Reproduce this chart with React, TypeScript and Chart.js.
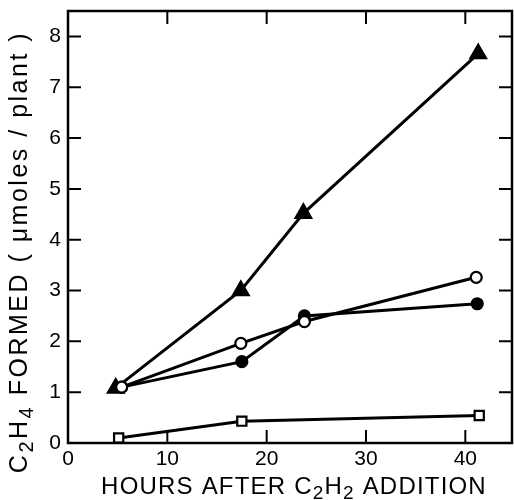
import React, { useEffect, useRef } from "react";
import { Chart, registerables } from "chart.js";

Chart.register(...registerables);

// Data
const triangleX = [4.8, 17.4, 23.7, 41.3];
const triangleY = [1.08, 3.0, 4.52, 7.66];
const openCircleX = [5.4, 17.4, 23.8, 41.1];
const openCircleY = [1.1, 1.96, 2.39, 3.26];
const filledCircleX = [5.4, 17.5, 23.8, 41.2];
const filledCircleY = [1.1, 1.6, 2.5, 2.74];
const squareX = [5.1, 17.5, 41.4];
const squareY = [0.1, 0.43, 0.54];

// Axis titles as [text, isSubscript] runs
const xTitleParts: [string, boolean][] = [["HOURS AFTER C", false], ["2", true], ["H", false], ["2", true], [" ADDITION", false]];
const yTitleParts: [string, boolean][] = [["C", false], ["2", true], ["H", false], ["4", true], [" FORMED ( \u03bcmoles / plant )", false]];
const xTickValues = [10, 20, 30, 40];
const yTickValues = [1, 2, 3, 4, 5, 6, 7, 8];

const FONT = '"Liberation Sans", Arial, sans-serif';

const pts = (xs: number[], ys: number[]) => xs.map((x, i) => ({ x, y: ys[i] }));

function drawRich(ctx: any, parts: [string, boolean][], cx: number, cy: number, size: number, spacing: number) {
  const fontFor = (sub: boolean) => `${sub ? Math.round(size * 0.8) : size}px ${FONT}`;
  let total = 0;
  const widths = parts.map(([t, sub]) => {
    ctx.font = fontFor(sub);
    ctx.letterSpacing = `${spacing}px`;
    const w = ctx.measureText(t).width;
    total += w;
    return w;
  });
  let x = cx - total / 2;
  ctx.textAlign = "left";
  ctx.textBaseline = "middle";
  parts.forEach(([t, sub], i) => {
    ctx.font = fontFor(sub);
    ctx.letterSpacing = `${spacing}px`;
    ctx.fillText(t, x, cy + (sub ? size * 0.3 : 0));
    x += widths[i];
  });
}

const framePlugin = {
  id: "frame",
  afterDraw(chart: any) {
    const ctx = chart.ctx;
    const { left, right, top, bottom } = chart.chartArea;
    const xs = chart.scales.x;
    const ys = chart.scales.y;
    ctx.save();
    ctx.strokeStyle = "#000";
    ctx.lineWidth = 2.5;
    ctx.strokeRect(left, top, right - left, bottom - top);
    ctx.lineWidth = 2;
    const tl = 13;
    ctx.beginPath();
    xTickValues.forEach((v) => {
      const px = xs.getPixelForValue(v);
      ctx.moveTo(px, bottom);
      ctx.lineTo(px, bottom - tl);
      ctx.moveTo(px, top);
      ctx.lineTo(px, top + tl);
    });
    yTickValues.forEach((v) => {
      const py = ys.getPixelForValue(v);
      ctx.moveTo(left, py);
      ctx.lineTo(left + tl, py);
      ctx.moveTo(right, py);
      ctx.lineTo(right - tl, py);
    });
    ctx.stroke();

    ctx.fillStyle = "#000";
    drawRich(ctx, xTitleParts, (left + right) / 2 + 4, 487, 24, 1.2);
    ctx.translate(20, (top + bottom) / 2 + 25);
    ctx.rotate(-Math.PI / 2);
    drawRich(ctx, yTitleParts, 0, 0, 25, 2.5);
    ctx.restore();
  },
};

export default function App() {
  const ref = useRef<HTMLCanvasElement>(null);
  useEffect(() => {
    if (!ref.current) return;
    const common = {
      borderColor: "#000",
      borderWidth: 3,
      pointBorderColor: "#000",
      pointBorderWidth: 2.2,
      showLine: true,
      tension: 0,
      clip: false,
    };
    const chart = new Chart(ref.current, {
      type: "scatter",
      data: {
        datasets: [
          {
            ...common,
            label: "open circles",
            data: pts(openCircleX, openCircleY),
            pointStyle: "circle",
            pointRadius: 5.5,
            pointBackgroundColor: "#fff",
          },
          {
            ...common,
            label: "filled circles",
            data: pts(filledCircleX, filledCircleY),
            pointStyle: "circle",
            pointRadius: 5.5,
            pointBackgroundColor: "#000",
          },
          {
            ...common,
            label: "open squares",
            data: pts(squareX, squareY),
            pointStyle: "rect",
            pointRadius: 6.5,
            pointBackgroundColor: "#fff",
          },
          {
            ...common,
            label: "triangles",
            data: pts(triangleX, triangleY),
            pointStyle: "triangle",
            pointRadius: 9,
            pointBackgroundColor: "#000",
          },
        ],
      } as any,
      options: {
        animation: false,
        responsive: false,
        layout: { autoPadding: false, padding: { top: 11, right: 2, left: 0, bottom: 0 } },
        plugins: { legend: { display: false }, tooltip: { enabled: false } },
        scales: {
          x: {
            type: "linear",
            min: 0,
            max: 44.7,
            grid: { display: false, drawTicks: false },
            border: { display: false },
            ticks: {
              stepSize: 10,
              includeBounds: false,
              padding: 4,
              color: "#000",
              maxRotation: 0,
              font: { family: FONT, size: 21 },
            },
            afterFit: (s: any) => {
              s.height = 57;
              s.paddingLeft = 0;
              s.paddingRight = 0;
            },
          },
          y: {
            type: "linear",
            min: 0,
            max: 8.5,
            grid: { display: false, drawTicks: false },
            border: { display: false },
            ticks: {
              stepSize: 1,
              includeBounds: false,
              padding: 7,
              color: "#000",
              font: { family: FONT, size: 21 },
            },
            afterFit: (s: any) => {
              s.width = 68;
              s.paddingTop = 0;
              s.paddingBottom = 0;
            },
          },
        },
      } as any,
      plugins: [framePlugin],
    });
    return () => chart.destroy();
  }, []);
  return (
    <div style={{ position: "absolute", left: 0, top: 0, width: 514, height: 500, background: "#fff" }}>
      <canvas ref={ref} width={514} height={500} />
    </div>
  );
}
